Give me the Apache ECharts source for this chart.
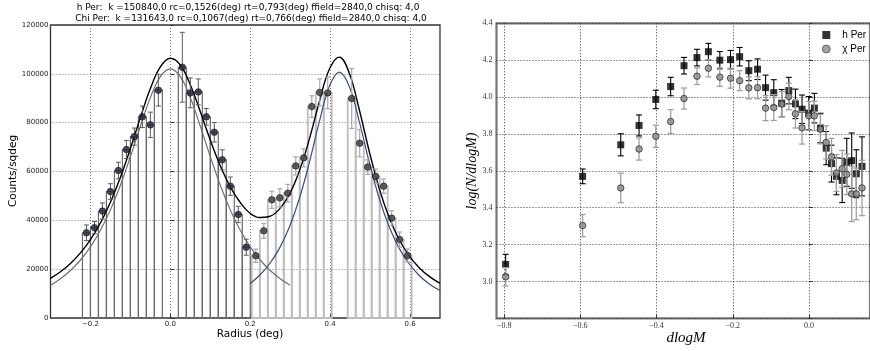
<!DOCTYPE html>
<html><head><meta charset="utf-8">
<script src="https://cdn.jsdelivr.net/npm/echarts@6/dist/echarts.min.js"></script>
<style>html,body{margin:0;padding:0;background:#fff}#c{width:870px;height:351px}</style>
</head><body><div id="c"></div>
<script>
// ---------- Left panel: radial density profiles ----------
const binWidth = 0.02;
const hPerR = [-0.21,-0.19,-0.17,-0.15,-0.13,-0.11,-0.09,-0.07,-0.05,-0.03,0.03,0.05,0.07,0.09,0.11,0.13,0.15,0.17,0.19];
const hPerCounts = [34900,37000,43800,51800,60400,69000,74300,82400,79100,93300,102700,92200,92600,82400,76100,64800,54000,42400,29000];
const hPerErr = [3200,2500,3300,3200,3400,3700,3500,4400,5200,6500,14300,6100,5300,3400,4000,4100,3750,3350,3270];

const chiPerR = [0.214,0.234,0.254,0.274,0.294,0.314,0.334,0.354,0.374,0.394,0.454,0.474,0.494,0.514,0.534,0.554,0.574,0.594];
const chiPerCounts = [25500,35700,48400,49200,51100,62300,65600,86600,92400,92200,89900,71600,61800,58000,54000,40900,32100,25600];
const chiPerErr = [2700,3000,3500,3700,3600,3700,3700,4400,5500,6500,12300,5600,3000,3000,2900,3000,3100,2700];

// fitted King profiles
const totalFitR = [-0.3,-0.275,-0.25,-0.225,-0.2,-0.175,-0.15,-0.125,-0.1,-0.075,-0.05,-0.025,0,0.025,0.05,0.075,0.1,0.125,0.15,0.175,
  0.198,0.223,0.248,0.273,0.298,0.323,0.348,0.373,0.398,0.423,0.448,0.473,0.498,0.523,0.548,0.573,0.598,0.623,0.648,0.675];
const totalFit = [16235,18938,22352,26667,32109,38936,47386,57599,69401,82055,93973,102843,106366,103599,95530,84504,72892,62352,53717,47287,
  43100,41167,41582,44599,50639,60172,73276,88562,101844,106853,100248,85294,68178,52994,41020,32050,25452,20607,17028,14200];
const hFitR = [-0.3,-0.275,-0.25,-0.225,-0.2,-0.175,-0.15,-0.125,-0.1,-0.075,-0.05,-0.025,0,0.025,0.05,0.075,0.1,0.125,0.15,0.175,0.2,0.225,0.25,0.275,0.3];
const hFit = [13386,16077,19469,23751,29148,35914,44285,54396,66068,78556,90265,98870,102060,98870,90265,78556,66068,54396,44285,35914,29148,23751,19469,16077,13386];
const chiFitR = [0.2,0.223,0.248,0.273,0.298,0.323,0.348,0.373,0.398,0.423,0.448,0.473,0.498,0.523,0.548,0.573,0.598,0.623,0.648,0.675];
const chiFit = [14150,17416,22113,28522,37253,48928,63740,80393,94773,100666,94773,80393,63740,48928,37253,28522,22113,17416,13952,11250];

const leftXTicks = [-0.2,0,0.2,0.4,0.6];
const titleLine1 = 'h Per:  k =150840,0 rc=0,1526(deg) rt=0,793(deg) ffield=2840,0 chisq: 4,0';
const titleLine2 = 'Chi Per:  k =131643,0 rc=0,1067(deg) rt=0,766(deg) ffield=2840,0 chisq: 4,0';

// ---------- Right panel: mass function ----------
const dlogM = [-0.796,-0.594,-0.494,-0.446,-0.402,-0.363,-0.328,-0.294,-0.264,-0.234,-0.206,-0.182,-0.158,-0.135,-0.114,-0.0925,-0.0716,-0.053,-0.0357,-0.0183,-0.0008,0.014,0.030,0.045,0.059,0.072,0.087,0.099,0.112,0.124,0.139];
const hPerLogN = [3.092,3.570,3.741,3.846,3.987,4.057,4.170,4.214,4.246,4.200,4.203,4.219,4.143,4.151,4.051,4.024,3.967,4.035,3.963,3.934,3.913,3.940,3.832,3.723,3.639,3.570,3.548,3.646,3.655,3.584,3.624];
const hPerLogErr = [0.055,0.04,0.06,0.057,0.05,0.05,0.045,0.045,0.045,0.047,0.05,0.05,0.054,0.056,0.068,0.07,0.074,0.072,0.08,0.077,0.09,0.08,0.08,0.09,0.1,0.1,0.12,0.13,0.15,0.13,0.16];
const chiPerLogN = [3.025,3.303,3.507,3.718,3.787,3.867,3.992,4.113,4.156,4.108,4.102,4.089,4.050,4.051,3.940,3.943,3.962,4.003,3.909,3.833,3.898,3.898,3.826,3.754,3.676,3.588,3.611,3.581,3.475,3.475,3.507];
const chiPerLogErr = [0.05,0.06,0.08,0.06,0.06,0.065,0.057,0.045,0.047,0.05,0.054,0.054,0.06,0.06,0.068,0.07,0.068,0.072,0.077,0.088,0.078,0.08,0.08,0.09,0.1,0.1,0.1,0.11,0.15,0.14,0.15];
const rightXTicks = [-0.8,-0.6,-0.4,-0.2,0];
const rightYTicks = [3.0,3.2,3.4,3.6,3.8,4.0,4.2,4.4];
const legendNames = ['h Per','\u03c7 Per'];

// ---------- helpers ----------
function fmtSigned(v){ return (v < -1e-9 ? '\u2212' : '') + Math.abs(v).toFixed(1); }
function barItem(color, lw){
  return function(params, api){
    const c = api.value(0), v = api.value(1);
    const a = api.coord([c - binWidth/2, 0]);
    const b = api.coord([c + binWidth/2, v]);
    return {type:'rect', shape:{x:a[0], y:b[1], width:b[0]-a[0], height:a[1]-b[1]},
      style:{fill:'none', stroke:color, lineWidth:lw}};
  };
}
function errItem(color, lw, cap){
  return function(params, api){
    const x = api.value(0), y = api.value(1), e = api.value(2);
    const t = api.coord([x, y+e]), b = api.coord([x, y-e]);
    const st = {stroke:color, lineWidth:lw};
    return {type:'group', children:[
      {type:'line', shape:{x1:t[0],y1:t[1],x2:b[0],y2:b[1]}, style:st},
      {type:'line', shape:{x1:t[0]-cap,y1:t[1],x2:t[0]+cap,y2:t[1]}, style:st},
      {type:'line', shape:{x1:b[0]-cap,y1:b[1],x2:b[0]+cap,y2:b[1]}, style:st}
    ]};
  };
}
const zip2 = (a,b)=>a.map((v,i)=>[v,b[i]]);
const zip3 = (a,b,c)=>a.map((v,i)=>[v,b[i],c[i]]);

const sans = 'DejaVu Sans', serif = 'Liberation Serif';
const chart = echarts.init(document.getElementById('c'), null, {renderer:'canvas'});
chart.setOption({
  animation:false,
  backgroundColor:'#fff',
  grid:[
    {left:50.5, top:25, width:389.5, height:293, show:true, borderColor:'#333', borderWidth:1.3, backgroundColor:'transparent'},
    {left:496.5, top:23.3, width:374, height:295, show:true, borderColor:'#777', borderWidth:2.2, backgroundColor:'transparent'}
  ],
  xAxis:[
    {type:'value', gridIndex:0, min:-0.3, max:0.675,
      axisLine:{show:false},
      axisTick:{show:true, inside:true, length:4, customValues:leftXTicks, lineStyle:{color:'#333'}},
      axisLabel:{customValues:leftXTicks, formatter:fmtSigned, fontFamily:sans, fontSize:7, color:'#222', margin:3},
      splitLine:{show:true, lineStyle:{color:'#555', width:0.8, type:[1,2]}}},
    {type:'value', gridIndex:1, min:-0.82, max:0.16,
      axisLine:{show:false},
      axisTick:{show:true, inside:true, length:4, customValues:rightXTicks, lineStyle:{color:'#333'}},
      axisLabel:{customValues:rightXTicks, formatter:fmtSigned, fontFamily:serif, fontSize:8, color:'#333', margin:4},
      splitLine:{show:true, lineStyle:{color:'#222', width:0.9, type:[1,2]}}}
  ],
  yAxis:[
    {type:'value', gridIndex:0, min:0, max:120000, interval:20000,
      axisLine:{show:false},
      axisTick:{show:true, inside:true, length:4, lineStyle:{color:'#333'}},
      axisLabel:{formatter:v=>String(Math.round(v)), fontFamily:sans, fontSize:7, color:'#222', margin:2},
      splitLine:{show:true, lineStyle:{color:'#555', width:0.8, type:[1,2]}}},
    {type:'value', gridIndex:1, min:2.8, max:4.4, interval:0.2,
      axisLine:{show:false},
      axisTick:{show:true, inside:true, length:4, lineStyle:{color:'#333'}},
      axisLabel:{customValues:rightYTicks, formatter:v=>v.toFixed(1), fontFamily:serif, fontSize:8, color:'#333', margin:4},
      splitLine:{show:true, lineStyle:{color:'#222', width:0.9, type:[1,2]}}}
  ],
  legend:{
    orient:'vertical', left:822, top:30, padding:0, itemWidth:8, itemHeight:8, itemGap:4,
    selectedMode:false,
    textStyle:{fontFamily:'Liberation Sans', fontSize:10, color:'#000', padding:[0,0,0,7]},
    data:[
      {name:legendNames[0], icon:'rect'},
      {name:legendNames[1], icon:'circle', itemStyle:{color:'#8a8a8a', borderColor:'#111', borderWidth:0.6}}
    ]
  },
  series:[
    {type:'custom', name:'hPerBars', xAxisIndex:0, yAxisIndex:0, renderItem:barItem('#6a6a6a',1.2),
      encode:{x:0,y:1}, data:zip2(hPerR,hPerCounts), z:2, silent:true},
    {type:'custom', name:'chiPerBars', xAxisIndex:0, yAxisIndex:0, renderItem:barItem('#bdbdbd',1.8),
      encode:{x:0,y:1}, data:zip2(chiPerR,chiPerCounts), z:2, silent:true},
    {type:'line', name:'hFit', xAxisIndex:0, yAxisIndex:0, data:zip2(hFitR,hFit), smooth:0.4, showSymbol:false,
      lineStyle:{color:'#707070', width:1.2}, z:3, silent:true},
    {type:'line', name:'chiFit', xAxisIndex:0, yAxisIndex:0, data:zip2(chiFitR,chiFit), smooth:0.4, showSymbol:false,
      lineStyle:{color:'#34507f', width:1.2}, z:3, silent:true},
    {type:'line', name:'totalFit', xAxisIndex:0, yAxisIndex:0, data:zip2(totalFitR,totalFit), smooth:0.4, showSymbol:false,
      lineStyle:{color:'#000', width:1.4}, z:4, silent:true},
    {type:'custom', name:'hPerErr', xAxisIndex:0, yAxisIndex:0, renderItem:errItem('#5a5a5a',1,2.5),
      encode:{x:0,y:1}, data:zip3(hPerR,hPerCounts,hPerErr), z:5, silent:true},
    {type:'custom', name:'chiPerErr', xAxisIndex:0, yAxisIndex:0, renderItem:errItem('#a8a8a8',1.2,2.5),
      encode:{x:0,y:1}, data:zip3(chiPerR,chiPerCounts,chiPerErr), z:5, silent:true},
    {type:'scatter', name:'hPerPts', xAxisIndex:0, yAxisIndex:0, data:zip2(hPerR,hPerCounts), symbol:'circle', symbolSize:6.5,
      itemStyle:{color:'#1b2542', borderColor:'#111', borderWidth:0.8}, z:6, silent:true},
    {type:'scatter', name:'chiPerPts', xAxisIndex:0, yAxisIndex:0, data:zip2(chiPerR,chiPerCounts), symbol:'circle', symbolSize:6.5,
      itemStyle:{color:'#3c3c3c', borderColor:'#111', borderWidth:0.8}, z:6, silent:true},

    {type:'custom', name:'hPerLogErr', xAxisIndex:1, yAxisIndex:1, renderItem:errItem('#000',1.1,3),
      encode:{x:0,y:1}, data:zip3(dlogM,hPerLogN,hPerLogErr), z:5, silent:true},
    {type:'scatter', name:legendNames[0], xAxisIndex:1, yAxisIndex:1, data:zip2(dlogM,hPerLogN), symbol:'rect', symbolSize:7,
      itemStyle:{color:'#000'}, z:6, silent:true},
    {type:'custom', name:'chiPerLogErr', xAxisIndex:1, yAxisIndex:1, renderItem:errItem('#a0a0a0',1.3,3),
      encode:{x:0,y:1}, data:zip3(dlogM,chiPerLogN,chiPerLogErr), z:7, silent:true},
    {type:'scatter', name:legendNames[1], xAxisIndex:1, yAxisIndex:1, data:zip2(dlogM,chiPerLogN), symbol:'circle', symbolSize:6.5,
      itemStyle:{color:'#8a8a8a', borderColor:'#111', borderWidth:0.8}, z:8, silent:true}
  ],
  graphic:[
    {type:'text', x:248, y:8, silent:true, style:{text:titleLine1, fontFamily:sans, fontSize:9, fill:'#000', align:'center', verticalAlign:'middle'}},
    {type:'text', x:251, y:19, silent:true, style:{text:titleLine2, fontFamily:sans, fontSize:9, fill:'#000', align:'center', verticalAlign:'middle'}},
    {type:'text', x:13, y:171, rotation:Math.PI/2, silent:true, style:{text:'Counts/sqdeg', fontFamily:sans, fontSize:10.5, fill:'#000', align:'center', verticalAlign:'middle'}},
    {type:'text', x:250, y:334, silent:true, style:{text:'Radius (deg)', fontFamily:sans, fontSize:10.5, fill:'#000', align:'center', verticalAlign:'middle'}},
    {type:'text', x:686, y:338, silent:true, style:{text:'dlogM', fontFamily:serif, fontStyle:'italic', fontSize:15, fill:'#000', align:'center', verticalAlign:'middle'}},
    {type:'text', x:472, y:171, rotation:Math.PI/2, silent:true, style:{text:'log(N/dlogM)', fontFamily:serif, fontStyle:'italic', fontSize:14, fill:'#000', align:'center', verticalAlign:'middle'}}
  ]
});
</script></body></html>
